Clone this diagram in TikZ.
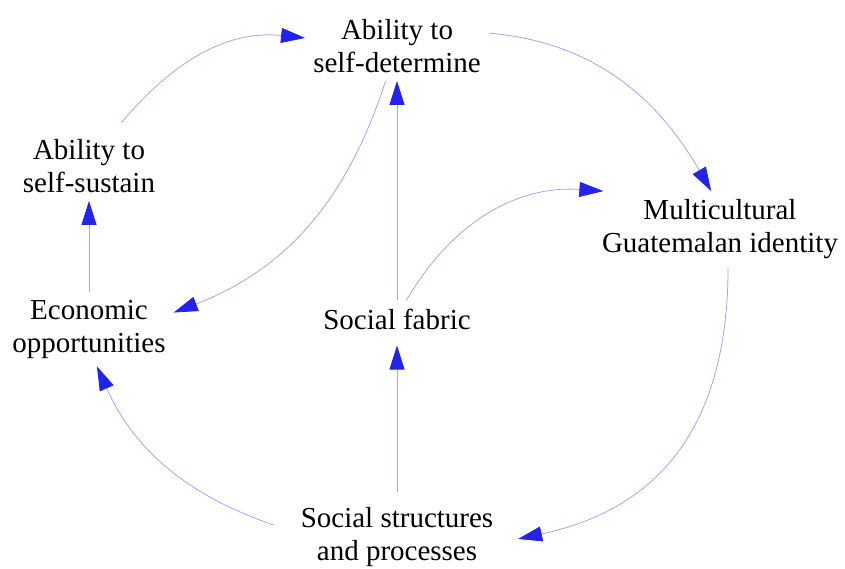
\documentclass[tikz,border=0pt]{standalone}
\usepackage{fontspec}
\setmainfont{Liberation Serif}
\usetikzlibrary{arrows.meta}
\definecolor{linkblue}{RGB}{165,165,235}
\definecolor{tipblue}{RGB}{35,35,235}

\begin{document}
\begin{tikzpicture}[x=1pt,y=1pt,
    var/.style={align=center, inner sep=8pt, font=\fontsize{29}{33}\selectfont},
    link/.style={draw=linkblue, line width=0.8pt, -{Triangle[length=24pt,width=15pt,color=tipblue]}}]
    \useasboundingbox (0,0) rectangle (845,-568);

    % variables
    \node[var] (determine) at (397,-46) {Ability to\\self-determine};
    \node[var] (sustain) at (89,-166) {Ability to\\self-sustain};
    \node[var] (multi) at (720,-229) {Multicultural\\Guatemalan identity};
    \node[var] (econ) at (89,-329) {Economic\\opportunities};
    \node[var] (fabric) at (397,-319) {Social fabric};
    \node[var] (structures) at (397,-537) {Social structures\\and processes};

    % causal links
    \draw[link, shorten <=11pt] (sustain.54) to[out=50, in=174] (determine.175);
    \draw[link] (determine.8) to[out=-5, in=120] (multi.103);
    \draw[link] (determine.-108) to[out=-108, in=21] (econ.11);
    \draw[link] (fabric.north) -- (determine.south);
    \draw[link] (fabric.63) to[out=60, in=176] (multi.162);
    \draw[link, shorten <=7pt, shorten >=8pt] (structures.north) -- (fabric.south);
    \draw[link] (econ.north) -- (sustain.south);
    \draw[link, shorten >=17pt] (multi.-78) to[out=-90, in=12, looseness=1.15] (structures.-3);
    \draw[link, shorten <=20pt] (structures.177) to[out=161, in=-66] (econ.-78);
\end{tikzpicture}
\end{document}
